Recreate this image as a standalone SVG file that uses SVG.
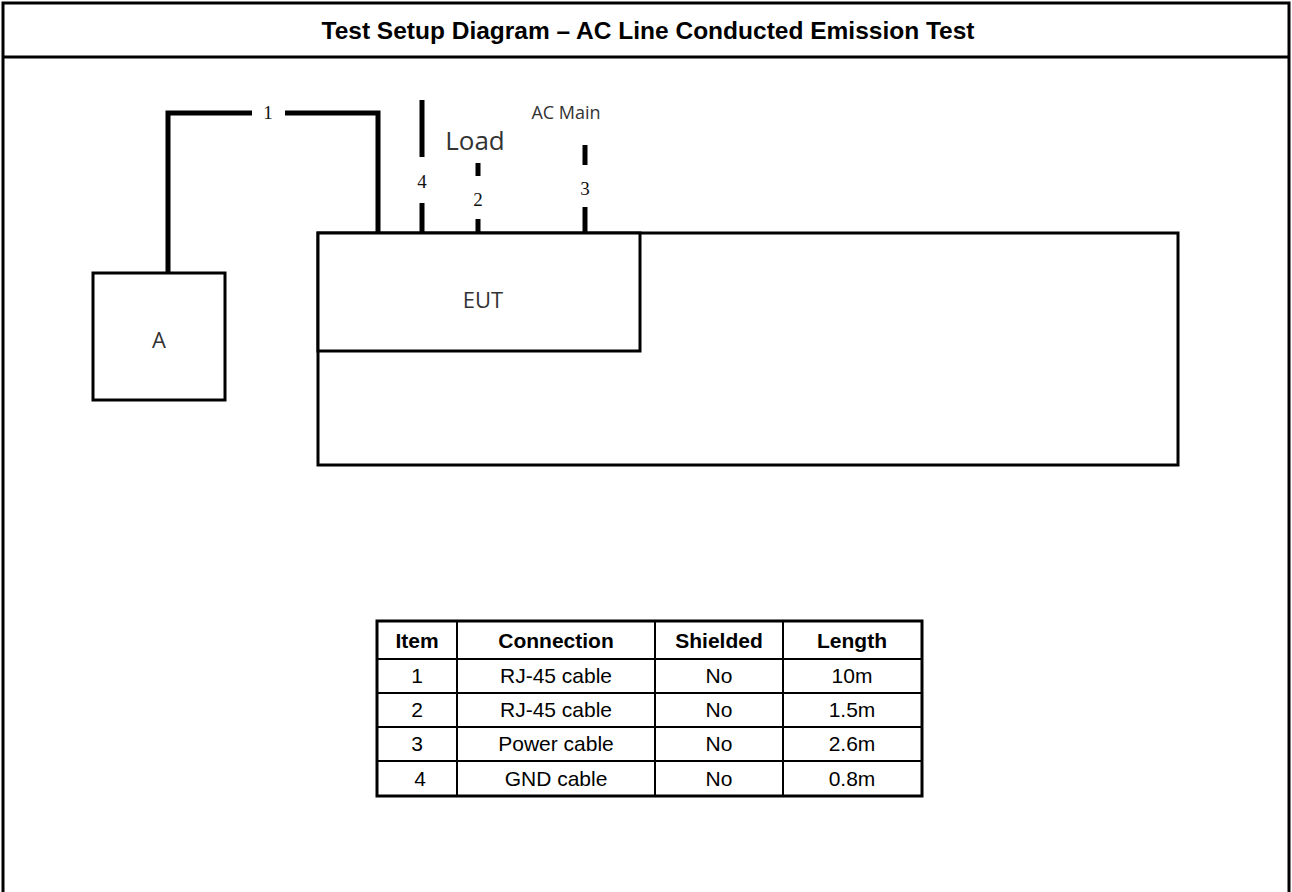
<svg xmlns="http://www.w3.org/2000/svg" width="1292" height="892" viewBox="0 0 1292 892">
<style>
.frame{fill:none;stroke:#000;stroke-width:3}
.box{fill:#fff;stroke:#000;stroke-width:3}
.cable{fill:none;stroke:#000;stroke-width:5}
.lbl{font-family:"Open Sans","Noto Sans",sans-serif;fill:#333;text-anchor:middle}
.num{font-family:"Liberation Serif","DejaVu Serif",serif;font-size:19px;fill:#111;text-anchor:middle}
.title{font-family:"Liberation Sans",Arial,sans-serif;font-weight:bold;font-size:24.5px;text-anchor:middle;fill:#000}
.th{font-family:"Liberation Sans",Arial,sans-serif;font-weight:bold;font-size:21px;text-anchor:middle;fill:#000}
.td{font-family:"Liberation Sans",Arial,sans-serif;font-size:21px;text-anchor:middle;fill:#000}
.tline{stroke:#000;stroke-width:2}
</style>
<g id="frame">
<path class="frame" d="M3,892 V3 H1289 V892"/>
<line x1="3" y1="57" x2="1289" y2="57" stroke="#000" stroke-width="3"/>
<text class="title" x="648" y="39">Test Setup Diagram – AC Line Conducted Emission Test</text>
</g>
<g id="table-base">
<rect class="box" x="318" y="233" width="860" height="232"/>
</g>
<g id="eut">
<rect class="box" x="318" y="233" width="322" height="118"/>
<text class="lbl" x="483" y="308" font-size="22">EUT</text>
</g>
<g id="aux-a">
<rect class="box" x="93" y="273" width="132" height="127"/>
<text class="lbl" x="159" y="348" font-size="22">A</text>
</g>
<g id="connectors">
<path class="cable" d="M168,273 V113 H252"/>
<path class="cable" d="M285,113 H378 V233"/>
<text class="num" x="268" y="119">1</text>
<line class="cable" x1="422" y1="100" x2="422" y2="157"/>
<line class="cable" x1="422" y1="203" x2="422" y2="233"/>
<text class="num" x="422" y="188">4</text>
<text class="lbl" x="475" y="150" font-size="26" fill="#444">Load</text>
<line class="cable" x1="478" y1="163" x2="478" y2="176"/>
<line class="cable" x1="478" y1="219" x2="478" y2="233"/>
<text class="num" x="478" y="206">2</text>
<text class="lbl" x="566" y="119" font-size="18">AC Main</text>
<line class="cable" x1="585" y1="145" x2="585" y2="165"/>
<line class="cable" x1="585" y1="207" x2="585" y2="233"/>
<text class="num" x="585" y="195">3</text>
</g>
<g id="cable-table">
<rect x="377" y="621" width="545" height="175" fill="#fff" stroke="#000" stroke-width="3"/>
<line class="tline" x1="457" y1="621" x2="457" y2="796"/>
<line class="tline" x1="655" y1="621" x2="655" y2="796"/>
<line class="tline" x1="783" y1="621" x2="783" y2="796"/>
<line class="tline" x1="377" y1="659" x2="922" y2="659"/>
<line class="tline" x1="377" y1="693" x2="922" y2="693"/>
<line class="tline" x1="377" y1="727" x2="922" y2="727"/>
<line class="tline" x1="377" y1="761" x2="922" y2="761"/>
<text class="th" x="417" y="648">Item</text>
<text class="th" x="556" y="648">Connection</text>
<text class="th" x="719" y="648">Shielded</text>
<text class="th" x="852" y="648">Length</text>
<text class="td" x="417" y="683">1</text>
<text class="td" x="556" y="683">RJ-45 cable</text>
<text class="td" x="719" y="683">No</text>
<text class="td" x="852" y="683">10m</text>
<text class="td" x="417" y="717">2</text>
<text class="td" x="556" y="717">RJ-45 cable</text>
<text class="td" x="719" y="717">No</text>
<text class="td" x="852" y="717">1.5m</text>
<text class="td" x="417" y="751">3</text>
<text class="td" x="556" y="751">Power cable</text>
<text class="td" x="719" y="751">No</text>
<text class="td" x="852" y="751">2.6m</text>
<text class="td" x="420" y="786">4</text>
<text class="td" x="556" y="786">GND cable</text>
<text class="td" x="719" y="786">No</text>
<text class="td" x="852" y="786">0.8m</text>
</g>
</svg>
